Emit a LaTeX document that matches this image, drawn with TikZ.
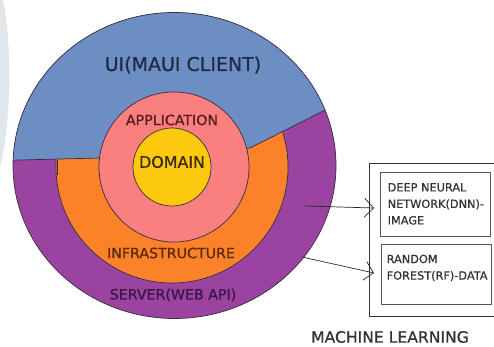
\documentclass[tikz,border=0pt]{standalone}
\usepackage{fontspec}
\setmainfont{DejaVu Sans}
\newfontfamily\medfont{DejaVu Sans}[FakeBold=0.7]
\usetikzlibrary{arrows.meta}
\definecolor{faint}{HTML}{E1E6EA}
\definecolor{blu}{HTML}{6D8EC2}
\definecolor{purp}{HTML}{9A44A0}
\definecolor{orng}{HTML}{FB8228}
\definecolor{pnk}{HTML}{FA8080}
\definecolor{yel}{HTML}{FDC90F}
\definecolor{edge}{HTML}{3A2A40}
\definecolor{uitext}{HTML}{1F2A48}
\definecolor{apptext}{HTML}{5A1A1A}
\definecolor{domtext}{HTML}{3B2A10}
\definecolor{inftext}{HTML}{5A2A10}
\definecolor{srvtext}{HTML}{3A1545}
\definecolor{boxtext}{HTML}{333333}
\definecolor{boxline}{HTML}{555555}
\tikzset{
  ring/.style={draw=edge, line width=0.7pt},
  lbl/.style={inner sep=0pt, font=\medfont\fontsize{14.2}{16}\selectfont},
  mlbox/.style={draw=boxline, line width=1pt, inner sep=0pt},
  mltext/.style={inner sep=0pt, align=left, text=boxtext, font=\medfont\fontsize{11.3}{16.5}\selectfont},
  conn/.style={draw=black!85, line width=0.7pt, -{Straight Barb[length=9pt,width=19pt]}}
}
\begin{document}
\begin{tikzpicture}[x=1pt,y=-1pt]
\useasboundingbox (0,0) rectangle (494,347);
% faint background shape
\fill[faint] (0,0) -- (3,0) .. controls (11,40) and (13,110) .. (0,168) -- cycle;
% outer purple
\fill[purp] (174.5,165.5) ellipse [x radius=161.5pt, y radius=153pt];
% orange
\fill[orng] (172,167) circle [radius=116pt];
\draw[ring] (172,167) circle [radius=116pt];
% blue region
\begin{scope}
  \clip (174.5,165.5) ellipse [x radius=161.5pt, y radius=153pt];
  \fill[blu] (0,160.5) -- (100,158) -- (250,148) -- (335,105) -- (345,0) -- (0,0) -- cycle;
  \draw[ring] (0,160.5) -- (100,158) -- (250,148) -- (335,105);
  \draw[ring] (57,160) -- (57,175);
\end{scope}
\draw[ring] (174.5,165.5) ellipse [x radius=161.5pt, y radius=153pt];
% pink
\fill[pnk] (174,167) circle [radius=75pt];
\draw[ring] (174,167) circle [radius=75pt];
% yellow
\fill[yel] (172,167) circle [radius=39pt];
\draw[ring] (172,167) circle [radius=39pt];
% labels
\node[lbl, text=uitext, font=\medfont\fontsize{19}{22}\selectfont] (ui) at (183,65) {UI(MAUI CLIENT)};
\node[lbl, text=apptext] (app) at (172,120) {APPLICATION};
\node[lbl, text=domtext, font=\medfont\fontsize{15.9}{18}\selectfont] (dom) at (172,162) {DOMAIN};
\node[lbl, text=inftext] (inf) at (171,253) {INFRASTRUCTURE};
\node[lbl, text=srvtext] (srv) at (173,295) {SERVER(WEB API)};
% machine learning frame
\draw[draw=black!80, line width=0.9pt] (495,163) -- (369,163) -- (369,316) -- (495,316);
\node[mlbox, minimum width=110pt, minimum height=63pt] (dnnbox) at (435,204.5) {};
\node[mlbox, minimum width=110pt, minimum height=60pt] (rfbox) at (436,274) {};
\node[mltext, anchor=north west] (dnn) at (387.5,183) {DEEP NEURAL\\NETWORK(DNN)-\\IMAGE};
\node[mltext, anchor=north west] (rf) at (386.5,254.5) {RANDOM\\FOREST(RF)-DATA};
\node[inner sep=0pt, text=black!80, font=\medfont\fontsize{15.6}{18}\selectfont] (ml) at (390,337) {MACHINE LEARNING};
% connectors
\coordinate (s1) at (305,206);
\coordinate (e1) at (374,208);
\coordinate (s2) at (302,257);
\coordinate (e2) at (374,273);
\draw[conn] (s1) -- (e1);
\draw[conn] (s2) -- (e2);
\end{tikzpicture}
\end{document}
